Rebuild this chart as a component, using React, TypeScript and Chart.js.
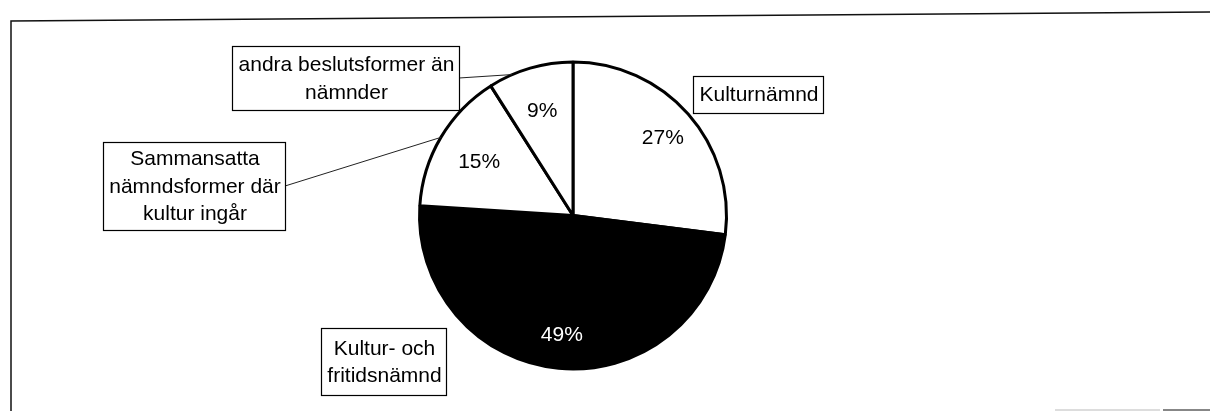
import React, { useEffect, useRef } from "react";
import { Chart, registerables } from "chart.js";

Chart.register(...registerables);

// ---- data ----
const categories = [
  "Kulturnämnd",
  "Kultur- och fritidsnämnd",
  "Sammansatta nämndsformer där kultur ingår",
  "andra beslutsformer än nämnder",
];
const shares = [27, 49, 15, 9];
const percentLabels = ["27%", "49%", "15%", "9%"];
const labelLines = [
  ["Kulturnämnd"],
  ["Kultur- och", "fritidsnämnd"],
  ["Sammansatta", "nämndsformer där", "kultur ingår"],
  ["andra beslutsformer än", "nämnder"],
];
const sliceColors = ["#ffffff", "#000000", "#ffffff", "#ffffff"];
const percentColors = ["#000000", "#ffffff", "#000000", "#000000"];

// ---- layout of the label boxes (styling/positions) ----
const boxLayout = [
  { x: 693, y: 76, w: 130, h: 37, leader: false, anchor: 0.5, rf: 0.78 },
  { x: 321, y: 328, w: 125, h: 67, leader: false, anchor: 0.5, rf: 0.77 },
  { x: 103, y: 142, w: 182, h: 88, leader: true, anchor: 0.5, rf: 0.71 },
  { x: 232, y: 46, w: 227, h: 64, leader: true, anchor: 0.28, rf: 0.72 },
];

const FONT = '21px "Liberation Sans", Arial, sans-serif';
const LINE_H = 27.5;

const decorPlugin = {
  id: "decor",
  beforeDraw(chart: any) {
    const ctx = chart.ctx;
    ctx.save();
    ctx.fillStyle = "#ffffff";
    ctx.fillRect(0, 0, chart.width, chart.height);
    // scanned frame
    ctx.strokeStyle = "#111";
    ctx.lineWidth = 1.5;
    ctx.beginPath();
    ctx.moveTo(11, 411);
    ctx.lineTo(11, 21);
    ctx.lineTo(1210, 12);
    ctx.stroke();
    ctx.strokeStyle = "#bbb";
    ctx.lineWidth = 1.2;
    ctx.beginPath();
    ctx.moveTo(1055, 410);
    ctx.lineTo(1160, 410);
    ctx.stroke();
    ctx.strokeStyle = "#111";
    ctx.beginPath();
    ctx.moveTo(1163, 410);
    ctx.lineTo(1210, 410);
    ctx.stroke();
    ctx.restore();
  },
  afterDraw(chart: any) {
    const ctx = chart.ctx;
    const meta = chart.getDatasetMeta(0);
    ctx.save();
    ctx.font = FONT;
    ctx.textAlign = "center";
    ctx.textBaseline = "middle";
    meta.data.forEach((arc: any, i: number) => {
      const p = arc.getProps(["x", "y", "startAngle", "endAngle", "outerRadius"], true);
      const b = boxLayout[i];
      const mid = (p.startAngle + p.endAngle) / 2;
      const r = p.outerRadius * b.rf;
      ctx.fillStyle = percentColors[i];
      ctx.fillText(percentLabels[i], p.x + Math.cos(mid) * r, p.y + Math.sin(mid) * r + 2);

      if (b.leader) {
        const a = p.startAngle + (p.endAngle - p.startAngle) * b.anchor;
        ctx.strokeStyle = "#222";
        ctx.lineWidth = 1;
        ctx.beginPath();
        ctx.moveTo(b.x + b.w, b.y + b.h / 2);
        ctx.lineTo(p.x + Math.cos(a) * p.outerRadius, p.y + Math.sin(a) * p.outerRadius);
        ctx.stroke();
      }
      ctx.fillStyle = "#ffffff";
      ctx.fillRect(b.x, b.y, b.w, b.h);
      ctx.strokeStyle = "#000";
      ctx.lineWidth = 1.2;
      ctx.strokeRect(b.x + 0.5, b.y + 0.5, b.w, b.h);
      ctx.fillStyle = "#000";
      const lines = labelLines[i];
      const cy = b.y + b.h / 2 + 1;
      lines.forEach((t, k) => {
        ctx.fillText(t, b.x + b.w / 2 + 1, cy + (k - (lines.length - 1) / 2) * LINE_H);
      });
    });
    ctx.restore();
  },
};

export default function App() {
  const ref = useRef<HTMLCanvasElement | null>(null);
  useEffect(() => {
    if (!ref.current) return;
    const chart = new Chart(ref.current, {
      type: "pie",
      data: {
        labels: categories,
        datasets: [
          {
            data: shares,
            backgroundColor: sliceColors,
            borderColor: "#000000",
            borderWidth: 3,
          },
        ],
      },
      options: {
        responsive: false,
        animation: false,
        layout: { padding: { left: 418, right: 482, top: 60, bottom: 40 } },
        plugins: {
          legend: { display: false },
          tooltip: { enabled: false },
          title: { display: false },
        },
      },
      plugins: [decorPlugin],
    });
    return () => chart.destroy();
  }, []);
  return (
    <div style={{ position: "absolute", left: 0, top: 0, width: 1210, height: 411, background: "#fff" }}>
      <canvas ref={ref} width={1210} height={411} style={{ display: "block" }} />
    </div>
  );
}
